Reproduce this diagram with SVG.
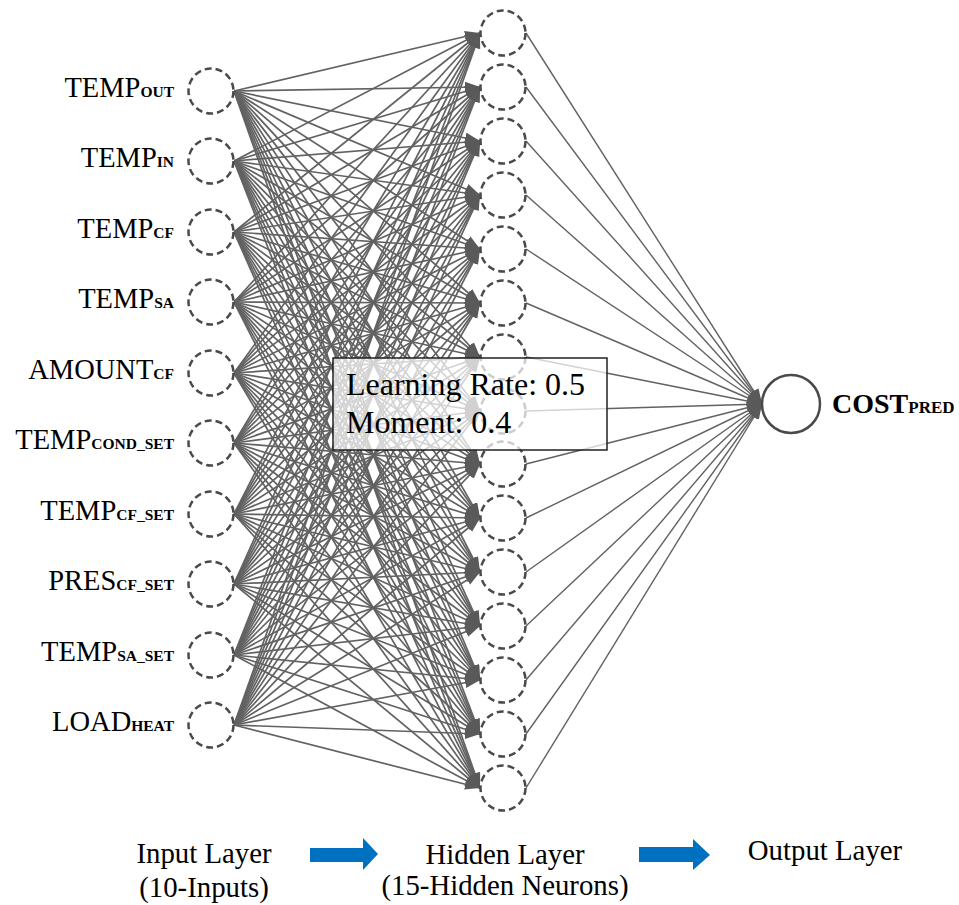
<svg xmlns="http://www.w3.org/2000/svg" width="959" height="905" viewBox="0 0 959 905" font-family="'Liberation Serif', 'Times New Roman', Times, serif">
  <style>
    text { font-family: 'Liberation Serif', 'Times New Roman', Times, serif; fill: #000; }
    .name { font-size: 28.5px; }
    .sub { font-weight: bold; font-size: 15.5px; }
    .leg { font-size: 28.8px; }
    .in, .hid { fill: #fff; stroke: #4a4a4a; stroke-width: 2.5; stroke-dasharray: 7 4; }
    .out { fill: #fff; stroke: #4a4a4a; stroke-width: 2.5; }
    #connectors path { fill: none; stroke: #626262; stroke-width: 1.7; marker-end: url(#ah); }
    #to-output path { stroke-width: 1.4; }
    .flow { fill: #0070C0; }
  </style>
  <defs>
    <marker id="ah" markerUnits="userSpaceOnUse" markerWidth="16" markerHeight="12" refX="15" refY="5.5" orient="auto">
      <path d="M0,0 L15,5.5 L0,11 z" fill="#5a5a5a"/>
    </marker>
  </defs>
  <rect width="959" height="905" fill="#fff"/>

  <!-- fully connected edges: input layer to hidden layer, hidden layer to output -->
  <g id="connectors">
    <g id="from-in1">
      <path d="M234 91L480 33"/><path d="M234 91L480 87"/><path d="M234 91L480 141"/><path d="M234 91L480 195"/><path d="M234 91L480 249"/><path d="M234 91L480 303"/><path d="M234 91L480 357"/><path d="M234 91L480 411"/><path d="M234 91L480 464"/><path d="M234 91L480 518"/><path d="M234 91L480 572"/><path d="M234 91L480 626"/><path d="M234 91L480 680"/><path d="M234 91L480 734"/><path d="M234 91L480 788"/>
    </g>
    <g id="from-in2">
      <path d="M234 161L480 33"/><path d="M234 161L480 87"/><path d="M234 161L480 141"/><path d="M234 161L480 195"/><path d="M234 161L480 249"/><path d="M234 161L480 303"/><path d="M234 161L480 357"/><path d="M234 161L480 411"/><path d="M234 161L480 464"/><path d="M234 161L480 518"/><path d="M234 161L480 572"/><path d="M234 161L480 626"/><path d="M234 161L480 680"/><path d="M234 161L480 734"/><path d="M234 161L480 788"/>
    </g>
    <g id="from-in3">
      <path d="M234 232L480 33"/><path d="M234 232L480 87"/><path d="M234 232L480 141"/><path d="M234 232L480 195"/><path d="M234 232L480 249"/><path d="M234 232L480 303"/><path d="M234 232L480 357"/><path d="M234 232L480 411"/><path d="M234 232L480 464"/><path d="M234 232L480 518"/><path d="M234 232L480 572"/><path d="M234 232L480 626"/><path d="M234 232L480 680"/><path d="M234 232L480 734"/><path d="M234 232L480 788"/>
    </g>
    <g id="from-in4">
      <path d="M234 302L480 33"/><path d="M234 302L480 87"/><path d="M234 302L480 141"/><path d="M234 302L480 195"/><path d="M234 302L480 249"/><path d="M234 302L480 303"/><path d="M234 302L480 357"/><path d="M234 302L480 411"/><path d="M234 302L480 464"/><path d="M234 302L480 518"/><path d="M234 302L480 572"/><path d="M234 302L480 626"/><path d="M234 302L480 680"/><path d="M234 302L480 734"/><path d="M234 302L480 788"/>
    </g>
    <g id="from-in5">
      <path d="M234 373L480 33"/><path d="M234 373L480 87"/><path d="M234 373L480 141"/><path d="M234 373L480 195"/><path d="M234 373L480 249"/><path d="M234 373L480 303"/><path d="M234 373L480 357"/><path d="M234 373L480 411"/><path d="M234 373L480 464"/><path d="M234 373L480 518"/><path d="M234 373L480 572"/><path d="M234 373L480 626"/><path d="M234 373L480 680"/><path d="M234 373L480 734"/><path d="M234 373L480 788"/>
    </g>
    <g id="from-in6">
      <path d="M234 443L480 33"/><path d="M234 443L480 87"/><path d="M234 443L480 141"/><path d="M234 443L480 195"/><path d="M234 443L480 249"/><path d="M234 443L480 303"/><path d="M234 443L480 357"/><path d="M234 443L480 411"/><path d="M234 443L480 464"/><path d="M234 443L480 518"/><path d="M234 443L480 572"/><path d="M234 443L480 626"/><path d="M234 443L480 680"/><path d="M234 443L480 734"/><path d="M234 443L480 788"/>
    </g>
    <g id="from-in7">
      <path d="M234 514L480 33"/><path d="M234 514L480 87"/><path d="M234 514L480 141"/><path d="M234 514L480 195"/><path d="M234 514L480 249"/><path d="M234 514L480 303"/><path d="M234 514L480 357"/><path d="M234 514L480 411"/><path d="M234 514L480 464"/><path d="M234 514L480 518"/><path d="M234 514L480 572"/><path d="M234 514L480 626"/><path d="M234 514L480 680"/><path d="M234 514L480 734"/><path d="M234 514L480 788"/>
    </g>
    <g id="from-in8">
      <path d="M234 584L480 33"/><path d="M234 584L480 87"/><path d="M234 584L480 141"/><path d="M234 584L480 195"/><path d="M234 584L480 249"/><path d="M234 584L480 303"/><path d="M234 584L480 357"/><path d="M234 584L480 411"/><path d="M234 584L480 464"/><path d="M234 584L480 518"/><path d="M234 584L480 572"/><path d="M234 584L480 626"/><path d="M234 584L480 680"/><path d="M234 584L480 734"/><path d="M234 584L480 788"/>
    </g>
    <g id="from-in9">
      <path d="M234 655L480 33"/><path d="M234 655L480 87"/><path d="M234 655L480 141"/><path d="M234 655L480 195"/><path d="M234 655L480 249"/><path d="M234 655L480 303"/><path d="M234 655L480 357"/><path d="M234 655L480 411"/><path d="M234 655L480 464"/><path d="M234 655L480 518"/><path d="M234 655L480 572"/><path d="M234 655L480 626"/><path d="M234 655L480 680"/><path d="M234 655L480 734"/><path d="M234 655L480 788"/>
    </g>
    <g id="from-in10">
      <path d="M234 725L480 33"/><path d="M234 725L480 87"/><path d="M234 725L480 141"/><path d="M234 725L480 195"/><path d="M234 725L480 249"/><path d="M234 725L480 303"/><path d="M234 725L480 357"/><path d="M234 725L480 411"/><path d="M234 725L480 464"/><path d="M234 725L480 518"/><path d="M234 725L480 572"/><path d="M234 725L480 626"/><path d="M234 725L480 680"/><path d="M234 725L480 734"/><path d="M234 725L480 788"/>
    </g>
    <g id="to-output">
      <path d="M526 33L762 404"/><path d="M526 87L762 404"/><path d="M526 141L762 404"/><path d="M526 195L762 404"/><path d="M526 249L762 404"/><path d="M526 303L762 404"/><path d="M526 357L762 404"/><path d="M526 411L762 404"/><path d="M526 464L762 404"/><path d="M526 518L762 404"/><path d="M526 572L762 404"/><path d="M526 626L762 404"/><path d="M526 680L762 404"/><path d="M526 734L762 404"/><path d="M526 788L762 404"/>
    </g>
  </g>

  <!-- input layer -->
  <g id="in1"><circle class="in" cx="211" cy="91" r="22.5"/><text class="name" x="174" y="97" text-anchor="end">TEMP<tspan class="sub">OUT</tspan></text></g>
  <g id="in2"><circle class="in" cx="211" cy="161" r="22.5"/><text class="name" x="174" y="167" text-anchor="end">TEMP<tspan class="sub">IN</tspan></text></g>
  <g id="in3"><circle class="in" cx="211" cy="232" r="22.5"/><text class="name" x="174" y="238" text-anchor="end">TEMP<tspan class="sub">CF</tspan></text></g>
  <g id="in4"><circle class="in" cx="211" cy="302" r="22.5"/><text class="name" x="174" y="308" text-anchor="end">TEMP<tspan class="sub">SA</tspan></text></g>
  <g id="in5"><circle class="in" cx="211" cy="373" r="22.5"/><text class="name" x="174" y="379" text-anchor="end">AMOUNT<tspan class="sub">CF</tspan></text></g>
  <g id="in6"><circle class="in" cx="211" cy="443" r="22.5"/><text class="name" x="174" y="449" text-anchor="end">TEMP<tspan class="sub">COND_SET</tspan></text></g>
  <g id="in7"><circle class="in" cx="211" cy="514" r="22.5"/><text class="name" x="174" y="520" text-anchor="end">TEMP<tspan class="sub">CF_SET</tspan></text></g>
  <g id="in8"><circle class="in" cx="211" cy="584" r="22.5"/><text class="name" x="174" y="590" text-anchor="end">PRES<tspan class="sub">CF_SET</tspan></text></g>
  <g id="in9"><circle class="in" cx="211" cy="655" r="22.5"/><text class="name" x="174" y="661" text-anchor="end">TEMP<tspan class="sub">SA_SET</tspan></text></g>
  <g id="in10"><circle class="in" cx="211" cy="725" r="22.5"/><text class="name" x="174" y="731" text-anchor="end">LOAD<tspan class="sub">HEAT</tspan></text></g>

  <!-- hidden layer -->
  <g id="h1"><circle class="hid" cx="503" cy="33" r="22.5"/></g>
  <g id="h2"><circle class="hid" cx="503" cy="87" r="22.5"/></g>
  <g id="h3"><circle class="hid" cx="503" cy="141" r="22.5"/></g>
  <g id="h4"><circle class="hid" cx="503" cy="195" r="22.5"/></g>
  <g id="h5"><circle class="hid" cx="503" cy="249" r="22.5"/></g>
  <g id="h6"><circle class="hid" cx="503" cy="303" r="22.5"/></g>
  <g id="h7"><circle class="hid" cx="503" cy="357" r="22.5"/></g>
  <g id="h8"><circle class="hid" cx="503" cy="411" r="22.5"/></g>
  <g id="h9"><circle class="hid" cx="503" cy="464" r="22.5"/></g>
  <g id="h10"><circle class="hid" cx="503" cy="518" r="22.5"/></g>
  <g id="h11"><circle class="hid" cx="503" cy="572" r="22.5"/></g>
  <g id="h12"><circle class="hid" cx="503" cy="626" r="22.5"/></g>
  <g id="h13"><circle class="hid" cx="503" cy="680" r="22.5"/></g>
  <g id="h14"><circle class="hid" cx="503" cy="734" r="22.5"/></g>
  <g id="h15"><circle class="hid" cx="503" cy="788" r="22.5"/></g>

  <!-- output layer -->
  <g id="output"><circle class="out" cx="791" cy="404" r="29"/><text x="832" y="413" font-size="28" font-weight="bold">COST<tspan font-size="17">PRED</tspan></text></g>

  <!-- training parameters box -->
  <g id="params">
    <rect x="333" y="358" width="274" height="92" fill="#fff" fill-opacity="0.72" stroke="#222" stroke-width="1.5"/>
    <text x="346" y="395" font-size="32">Learning Rate: 0.5</text>
    <text x="346" y="433" font-size="32">Moment: 0.4</text>
  </g>

  <!-- layer legend -->
  <g id="legend">
    <text class="leg" x="204" y="863" text-anchor="middle">Input Layer</text>
    <text class="leg" x="204" y="897" text-anchor="middle">(10-Inputs)</text>
    <polygon class="flow" points="310,848 363,848 363,838 378,854 363,870 363,862 310,862"/>
    <text class="leg" x="505" y="864" text-anchor="middle">Hidden Layer</text>
    <text class="leg" x="505" y="895" text-anchor="middle">(15-Hidden Neurons)</text>
    <polygon class="flow" points="639,847 693,847 693,839 710,855 693,870 693,862 639,862"/>
    <text class="leg" x="825" y="860" text-anchor="middle">Output Layer</text>
  </g>
</svg>
